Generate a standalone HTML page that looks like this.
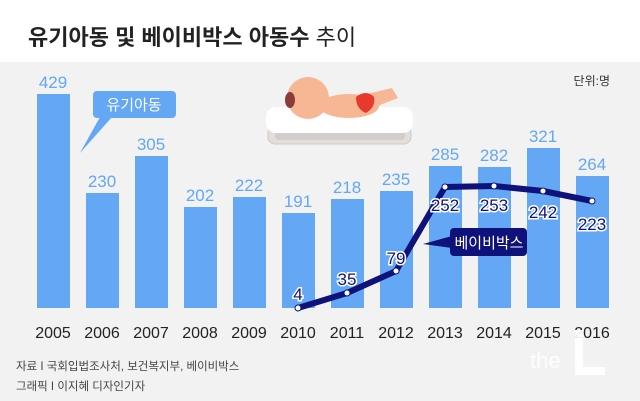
<!DOCTYPE html>
<html><head><meta charset="utf-8"><style>
body{margin:0;width:640px;height:401px;overflow:hidden;background:#fff;}
svg{display:block}
text{font-family:"Liberation Sans","Noto Sans CJK KR",sans-serif;}
</style></head><body>
<svg width="640" height="401" viewBox="0 0 640 401">
<rect x="0" y="0" width="640" height="401" fill="#fff"/>
<rect x="0" y="62" width="640" height="339" fill="#f2f2f2"/>
<text x="28" y="45" font-size="22" font-weight="bold" fill="#222">유기아동 및 베이비박스 아동수 <tspan font-weight="normal">추이</tspan></text>
<text x="610" y="85" font-size="12" fill="#333" text-anchor="end">단위:명</text>
<g>
<rect x="268" y="126" width="143" height="18" rx="7" fill="#e4dedb" stroke="#cfc8c4"/>
<rect x="275" y="130" width="130" height="10" rx="4" fill="#d3cecb"/>
<rect x="266" y="107" width="147" height="26" rx="10" fill="#fff"/>
<ellipse cx="349" cy="106" rx="30" ry="12" fill="#f7b794"/>
<path d="M355 97 L392 88 L398 98 L362 112 Z" fill="#f7b794"/>
<path d="M356 97 q10 -8 18 0 q2 10 -8 16 q-10 -4 -10 -16z" fill="#e8392f"/>
<circle cx="308" cy="98" r="21" fill="#f7b794"/>
<ellipse cx="290" cy="100" rx="5" ry="8" fill="#8a3b3a"/>
</g>
<g fill="#63a7f5">
<rect x="37" y="94" width="33" height="214"/>
<rect x="86" y="193" width="33" height="115"/>
<rect x="135" y="156" width="33" height="152"/>
<rect x="184" y="207" width="33" height="101"/>
<rect x="233" y="197" width="33" height="111"/>
<rect x="282" y="213" width="33" height="95"/>
<rect x="331" y="199" width="33" height="109"/>
<rect x="380" y="191" width="33" height="117"/>
<rect x="429" y="166" width="33" height="142"/>
<rect x="478" y="167" width="33" height="141"/>
<rect x="527" y="148" width="33" height="160"/>
<rect x="576" y="176" width="33" height="132"/>
</g>
<g font-size="17" fill="#63a7f5" text-anchor="middle">
<text x="53" y="88">429</text><text x="102" y="187">230</text><text x="151" y="150">305</text>
<text x="200" y="201">202</text><text x="249" y="191">222</text><text x="298" y="207">191</text>
<text x="347" y="193">218</text><text x="396" y="185">235</text><text x="445" y="160">285</text>
<text x="494" y="161">282</text><text x="543" y="142">321</text><text x="592" y="170">264</text>
</g>
<rect x="93" y="91" width="83" height="27" rx="4" fill="#63a7f5"/>
<path d="M100 117 L112 117 L80 153 Z" fill="#63a7f5"/>
<text x="134" y="110" font-size="15" fill="#fff" text-anchor="middle">유기아동</text>
<polyline points="298,308 347,293 396,271 445,187 494,186 543,191 592,201" fill="none" stroke="#0f127a" stroke-width="6" stroke-linejoin="round"/>
<g fill="#fff" stroke="#0f127a" stroke-width="1">
<circle cx="298" cy="308" r="3"/><circle cx="347" cy="293" r="3"/><circle cx="396" cy="271" r="3"/>
<circle cx="445" cy="187" r="3"/><circle cx="494" cy="186" r="3"/><circle cx="543" cy="191" r="3"/><circle cx="592" cy="201" r="3"/>
</g>
<g font-size="17" fill="#0f127a" text-anchor="middle" stroke="#fff" stroke-width="3" paint-order="stroke">
<text x="298" y="300">4</text><text x="347" y="285">35</text><text x="396" y="264">79</text>
<text x="445" y="211">252</text><text x="494" y="211">253</text><text x="543" y="218">242</text><text x="592" y="230">223</text>
</g>
<rect x="450" y="228" width="77" height="28" rx="4" fill="#0f127a"/>
<path d="M452 236 L452 248 L423 244 Z" fill="#0f127a"/>
<text x="489" y="248" font-size="15" fill="#fff" text-anchor="middle">베이비박스</text>
<g font-size="16" fill="#222" text-anchor="middle">
<text x="53" y="338">2005</text><text x="102" y="338">2006</text><text x="151" y="338">2007</text>
<text x="200" y="338">2008</text><text x="249" y="338">2009</text><text x="298" y="338">2010</text>
<text x="347" y="338">2011</text><text x="396" y="338">2012</text><text x="445" y="338">2013</text>
<text x="494" y="338">2014</text><text x="543" y="338">2015</text><text x="592" y="338">2016</text>
</g>
<text x="16" y="370" font-size="11.5" fill="#444">자료 I 국회입법조사처, 보건복지부, 베이비박스</text>
<text x="16" y="390" font-size="11.5" fill="#444">그래픽 I 이지혜 디자인기자</text>
<text x="530" y="368" font-size="22" fill="#fff" opacity="0.9">the</text>
<path d="M575 330 L583 330 L583 367 L605 367 L605 375 L575 375 Z" fill="#fff" opacity="0.9"/>
</svg>
</body></html>
